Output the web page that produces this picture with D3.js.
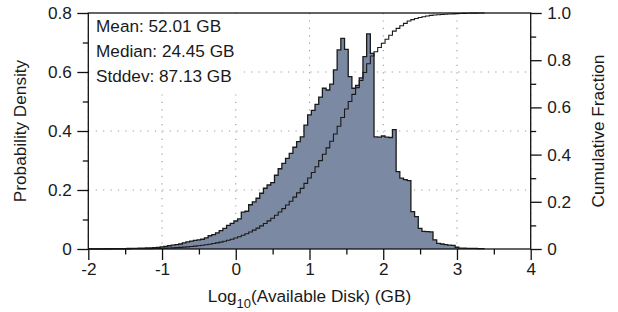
<!DOCTYPE html>
<html>
<head>
<meta charset="utf-8">
<script src="https://cdn.jsdelivr.net/npm/d3@7"></script>
<style>
  body { margin: 0; background: #fff; }
  svg { display: block; font-family: "Liberation Sans", Arial, Helvetica, sans-serif; }
</style>
</head>
<body>
<svg id="chart" width="618" height="312"></svg>
<script>
// histogram of log10(available disk), bins 0.05 wide centred on multiples of 0.05
var binStart = -2.025, binWidth = 0.05;

var density = [
  0.0005, 0.0005, 0.0005, 0.0006, 0.0007, 0.0008, 0.0009, 0.001, 0.0012, 0.0013,
  0.0015, 0.0017, 0.002, 0.0023, 0.0027, 0.003, 0.0035, 0.004, 0.0048, 0.0055,
  0.007, 0.009, 0.011, 0.013, 0.015, 0.017, 0.021, 0.024, 0.027, 0.029,
  0.031, 0.033, 0.038, 0.045, 0.049, 0.055, 0.062, 0.07, 0.08, 0.087,
  0.095, 0.102, 0.125, 0.128, 0.15, 0.16, 0.172, 0.189, 0.206, 0.217,
  0.225, 0.25, 0.272, 0.29, 0.307, 0.324, 0.345, 0.364, 0.38, 0.42,
  0.455, 0.47, 0.49, 0.515, 0.545, 0.539, 0.559, 0.607, 0.675, 0.714,
  0.677, 0.584, 0.545, 0.555, 0.58, 0.652, 0.729, 0.663, 0.38, 0.379,
  0.383, 0.379, 0.378, 0.405, 0.262, 0.24, 0.235, 0.232, 0.127, 0.11,
  0.07, 0.06, 0.059, 0.058, 0.031, 0.019, 0.017, 0.015, 0.013, 0.012,
  0.006, 0.003, 0.003, 0.002, 0.002, 0.002, 0.001, 0.001
];

var cumulative = [
  0, 0, 0.0001, 0.0001, 0.0002, 0.0002, 0.0003, 0.0004, 0.0004, 0.0005,
  0.0006, 0.0007, 0.0008, 0.001, 0.0011, 0.0013, 0.0015, 0.0017, 0.002, 0.0023,
  0.003, 0.0035, 0.0041, 0.0048, 0.0057, 0.0067, 0.0079, 0.0092, 0.0107, 0.0123,
  0.014, 0.0159, 0.018, 0.0204, 0.023, 0.0259, 0.0292, 0.0329, 0.0371, 0.0416,
  0.0465, 0.0518, 0.0581, 0.0645, 0.072, 0.08, 0.0886, 0.098, 0.1083, 0.1191,
  0.1304, 0.1429, 0.1565, 0.171, 0.1863, 0.2025, 0.2198, 0.238, 0.257, 0.278,
  0.3007, 0.3242, 0.3487, 0.3745, 0.4017, 0.4287, 0.4567, 0.487, 0.52, 0.557,
  0.593, 0.625, 0.655, 0.684, 0.714, 0.748, 0.785, 0.818, 0.836, 0.854,
  0.872, 0.889, 0.906, 0.923, 0.935, 0.946, 0.956, 0.966, 0.972, 0.977,
  0.981, 0.984, 0.987, 0.99, 0.9915, 0.9925, 0.9935, 0.9945, 0.9955, 0.9965,
  0.9975, 0.998, 0.9985, 0.999, 0.9993, 0.9996, 0.9998, 1.0
];

var xTicks = [-2, -1, 0, 1, 2, 3, 4];
var xMinor = [-1.5, -0.5, 0.5, 1.5, 2.5, 3.5];
var densTicks = [0, 0.2, 0.4, 0.6, 0.8];
var densMinor = [0.1, 0.3, 0.5, 0.7];
var fracTicks = [0, 0.2, 0.4, 0.6, 0.8, 1.0];
var fracMinor = [0.1, 0.3, 0.5, 0.7, 0.9];
var statLines = ["Mean: 52.01 GB", "Median: 24.45 GB", "Stddev: 87.13 GB"];

var pLeft = 88.3, pRight = 530.7, pTop = 13, pBottom = 249;
var fontSize = 17.2;

var svg = d3.select("#chart");

var x = d3.scaleLinear().domain([-2, 4]).range([pLeft, pRight]);
var yDens = d3.scaleLinear().domain([0, 0.8]).range([pBottom, pTop]);
var yFrac = d3.scaleLinear().domain([0, 1]).range([pBottom, pTop]);

// dotted grid (behind the histogram)
var grid = svg.append("g")
    .attr("stroke", "#999")
    .attr("stroke-width", 1.1)
    .attr("stroke-dasharray", "1.2,6.2");
grid.selectAll("line.v")
  .data(xTicks)
  .join("line")
    .attr("class", "v")
    .attr("x1", d => x(d)).attr("x2", d => x(d))
    .attr("y1", pTop).attr("y2", pBottom);
grid.selectAll("line.h")
  .data(densTicks.slice(1, -1))
  .join("line")
    .attr("class", "h")
    .attr("x1", pLeft).attr("x2", pRight)
    .attr("y1", d => yDens(d)).attr("y2", d => yDens(d));

// step points: left edge of each bin, plus the closing right edge
var histPts = density.map((d, i) => [binStart + i * binWidth, d]);
histPts.push([binStart + density.length * binWidth, density[density.length - 1]]);
var cdfPts = cumulative.map((d, i) => [binStart + i * binWidth, d]);
cdfPts.push([binStart + cumulative.length * binWidth, cumulative[cumulative.length - 1]]);

svg.append("path")
    .datum(histPts)
    .attr("fill", "#7b8aa2")
    .attr("d", d3.area()
      .curve(d3.curveStepAfter)
      .x(d => x(Math.max(-2, d[0])))
      .y0(pBottom)
      .y1(d => yDens(d[1])));

svg.append("path")
    .datum(histPts)
    .attr("fill", "none")
    .attr("stroke", "#1a1a1a")
    .attr("stroke-width", 1.3)
    .attr("d", d3.line()
      .curve(d3.curveStepAfter)
      .x(d => x(Math.max(-2, d[0])))
      .y(d => yDens(d[1])));

svg.append("path")
    .datum(cdfPts)
    .attr("fill", "none")
    .attr("stroke", "#1a1a1a")
    .attr("stroke-width", 1.1)
    .attr("d", d3.line()
      .curve(d3.curveStepAfter)
      .x(d => x(Math.max(-2, d[0])))
      .y(d => yFrac(d[1])));

// white box behind the statistics
svg.append("rect")
    .attr("x", pLeft + 1.5).attr("y", pTop + 1)
    .attr("width", 154).attr("height", 78)
    .attr("fill", "#fff");

svg.append("g")
  .selectAll("text")
  .data(statLines)
  .join("text")
    .attr("x", 96)
    .attr("y", (d, i) => 31.7 + i * 25)
    .attr("font-size", fontSize)
    .attr("fill", "#1a1a1a")
    .text(d => d);

// frame
svg.append("rect")
    .attr("x", pLeft).attr("y", pTop)
    .attr("width", pRight - pLeft).attr("height", pBottom - pTop)
    .attr("fill", "none")
    .attr("stroke", "#111")
    .attr("stroke-width", 1.3);

var fmt = d => d === 0 ? "0" : d3.format(".1f")(d);
var fmtX = d => d < 0 ? "-" + Math.abs(d) : String(d);

function styleAxis(g) {
  g.select(".domain").remove();
  g.selectAll(".tick line").attr("stroke", "#111").attr("stroke-width", 1.3);
  g.selectAll(".tick text").attr("fill", "#1a1a1a").style("font-size", fontSize + "px")
    .style("font-family", '"Liberation Sans", Arial, Helvetica, sans-serif');
}

svg.append("g")
    .attr("transform", `translate(${pLeft},0)`)
    .call(d3.axisLeft(yDens).tickValues(densMinor).tickSize(5.5).tickFormat(""))
    .call(styleAxis);
svg.append("g")
    .attr("transform", `translate(${pLeft},0)`)
    .call(d3.axisLeft(yDens).tickValues(densTicks).tickSize(11).tickPadding(5.5).tickFormat(fmt))
    .call(styleAxis);

svg.append("g")
    .attr("transform", `translate(${pRight},0)`)
    .call(d3.axisRight(yFrac).tickValues(fracMinor).tickSize(5.5).tickFormat(""))
    .call(styleAxis);
svg.append("g")
    .attr("transform", `translate(${pRight},0)`)
    .call(d3.axisRight(yFrac).tickValues(fracTicks).tickSize(11).tickPadding(5.5).tickFormat(fmt))
    .call(styleAxis);

svg.append("g")
    .attr("transform", `translate(0,${pBottom})`)
    .call(d3.axisBottom(x).tickValues(xMinor).tickSize(5.5).tickFormat(""))
    .call(styleAxis);
svg.append("g")
    .attr("transform", `translate(0,${pBottom})`)
    .call(d3.axisBottom(x).tickValues(xTicks).tickSize(11).tickPadding(3).tickFormat(fmtX))
    .call(styleAxis);

// axis titles
var xTitle = svg.append("text")
    .attr("x", (pLeft + pRight) / 2)
    .attr("y", 302)
    .attr("text-anchor", "middle")
    .attr("font-size", fontSize)
    .attr("fill", "#1a1a1a");
xTitle.append("tspan").text("Log");
xTitle.append("tspan").attr("dy", 6).attr("font-size", 13).text("10");
xTitle.append("tspan").attr("dy", -6).text("(Available Disk) (GB)");

svg.append("text")
    .attr("transform", `translate(25.5,${(pTop + pBottom) / 2}) rotate(-90)`)
    .attr("text-anchor", "middle")
    .attr("font-size", fontSize)
    .attr("fill", "#1a1a1a")
    .text("Probability Density");

svg.append("text")
    .attr("transform", `translate(604,${(pTop + pBottom) / 2}) rotate(-90)`)
    .attr("text-anchor", "middle")
    .attr("font-size", fontSize)
    .attr("fill", "#1a1a1a")
    .text("Cumulative Fraction");
</script>
</body>
</html>
